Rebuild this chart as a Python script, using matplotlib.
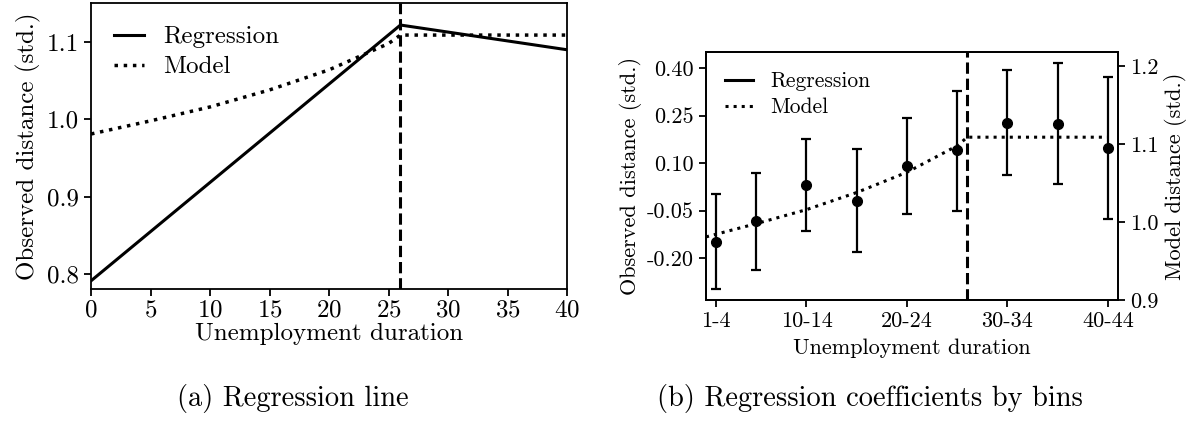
import matplotlib
matplotlib.use("Agg")
import matplotlib.pyplot as plt
from matplotlib.lines import Line2D

plt.rcParams['font.family'] = ['cmr10', 'DejaVu Serif']
plt.rcParams['mathtext.fontset'] = 'cm'
plt.rcParams['axes.formatter.use_mathtext'] = True
plt.rcParams['axes.linewidth'] = 1.3

# (a) regression line vs model
reg_x = [0, 26, 40]
reg_y = [0.791, 1.122, 1.090]
model_x = [0, 5, 10, 15, 20, 25, 26, 40]
model_y = [0.981, 0.998, 1.016, 1.038, 1.064, 1.098, 1.109, 1.109]
cutoff_a = 26

# (b) coefficients by bins
bin_x = [3, 7, 12, 17, 22, 27, 32, 37, 42]
coef = [-0.149, -0.084, 0.032, -0.020, 0.091, 0.140, 0.228, 0.224, 0.148]
ci_hi = [0.003, 0.070, 0.176, 0.144, 0.243, 0.329, 0.395, 0.415, 0.372]
ci_lo = [-0.298, -0.238, -0.113, -0.181, -0.060, -0.050, 0.063, 0.033, -0.076]
model_b_x = [2, 7, 12, 17, 22, 27, 28, 42]
model_b_y = [0.981, 0.998, 1.016, 1.038, 1.064, 1.098, 1.109, 1.109]
cutoff_b = 28
tick_pos_b = [3, 12, 22, 32, 42]
tick_lab_b = ['1-4', '10-14', '20-24', '30-34', '40-44']
yt_left_b = [-0.20, -0.05, 0.10, 0.25, 0.40]
yt_right_b = [0.9, 1.0, 1.1, 1.2]

fig = plt.figure(figsize=(11.96, 4.23), dpi=100)

# ---- panel a ----
ax1 = fig.add_axes([0.0761, 0.316, 0.398, 0.676])
ax1.plot(reg_x, reg_y, color='k', lw=2.2, label='Regression')
ax1.plot(model_x, model_y, color='k', lw=2.5, ls=':', label='Model')
ax1.axvline(cutoff_a, color='k', lw=2.2, ls='--')
ax1.set_xlim(0, 40)
ax1.set_ylim(0.78, 1.15)
ax1.set_xticks(range(0, 41, 5))
ax1.set_yticks([0.8, 0.9, 1.0, 1.1])
ax1.set_yticklabels(['0.8', '0.9', '1.0', '1.1'])
ax1.tick_params(labelsize=18, width=1.3, length=5)
ax1.tick_params(axis='x', pad=2)
ax1.set_xlabel('Unemployment duration', fontsize=18, labelpad=1)
ax1.set_ylabel('Observed distance (std.)', fontsize=18)
ax1.legend(loc='upper left', frameon=False, fontsize=18, handlelength=1.2,
           handletextpad=0.8, labelspacing=0.3)

# ---- panel b ----
ax2 = fig.add_axes([0.5903, 0.2908, 0.3445, 0.5856])
err = [[c - l for c, l in zip(coef, ci_lo)], [h - c for c, h in zip(coef, ci_hi)]]
ax2.errorbar(bin_x, coef, yerr=err, fmt='o', color='k', ms=7, lw=1.6,
             capsize=3.5, capthick=1.6)
ax2.axvline(cutoff_b, color='k', lw=2.2, ls='--')
ax2.set_xlim(2, 43)
ax2.set_ylim(-0.332, 0.45)
ax2.set_xticks(tick_pos_b)
ax2.set_xticklabels(tick_lab_b)
ax2.set_yticks(yt_left_b)
ax2.set_yticklabels(['%.2f' % v for v in yt_left_b])
ax2.tick_params(labelsize=16, width=1.3, length=5)
ax2.set_xlabel('Unemployment duration', fontsize=16, labelpad=5)
ax2.set_ylabel('Observed distance (std.)', fontsize=16)

ax3 = ax2.twinx()
ax3.plot(model_b_x, model_b_y, color='k', lw=2.2, ls=':')
ax3.set_ylim(0.9, 1.218)
ax3.set_yticks(yt_right_b)
ax3.set_yticklabels(['%.1f' % v for v in yt_right_b])
ax3.tick_params(labelsize=16, width=1.3, length=5)
ax3.set_ylabel('Model distance (std.)', fontsize=16)

handles = [Line2D([], [], color='k', lw=2.2), Line2D([], [], color='k', lw=2.2, ls=':')]
ax2.legend(handles, ['Regression', 'Model'], loc='upper left', frameon=False,
           fontsize=15.5, handlelength=1.3, handletextpad=0.8, labelspacing=0.3)

fig.text(0.245, 0.04, '(a) Regression line', fontsize=20.5, ha='center')
fig.text(0.7275, 0.04, '(b) Regression coefficients by bins', fontsize=20.5, ha='center')

fig.savefig('out.png', dpi=100)
